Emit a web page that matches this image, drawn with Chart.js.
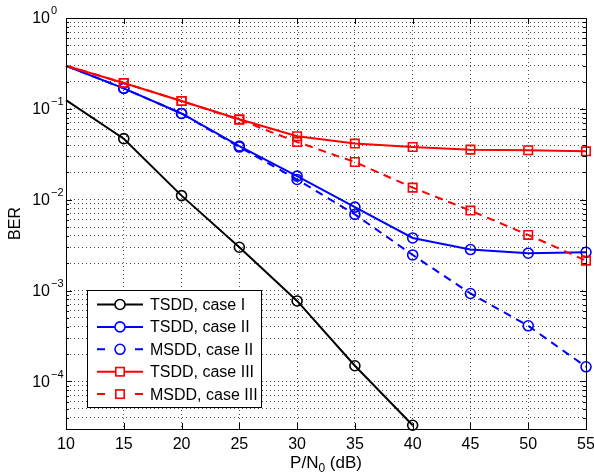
<!DOCTYPE html>
<html>
<head>
<meta charset="utf-8">
<style>
  html, body { margin: 0; padding: 0; background: #fff; }
</style>
</head>
<body>
<canvas id="berChart" width="594" height="475"></canvas>
<script src="https://cdn.jsdelivr.net/npm/chart.js@4/dist/chart.umd.min.js"></script>
<script>
// P/N0 in dB
const snr = [10, 15, 20, 25, 30, 35, 40, 45, 50, 55];

// BER curves
const tsddCase1 = [0.125, 0.047, 0.0111, 0.0030, 7.7e-4, 1.49e-4, 3.3e-5];
const tsddCase2 = [0.298, 0.168, 0.089, 0.039, 0.0182, 0.0083, 0.0038, 0.00283, 0.00258, 0.00264];
const msddCase2 = [0.298, 0.168, 0.089, 0.038, 0.0167, 0.0069, 0.00247, 9.3e-4, 4.1e-4, 1.45e-4];
const tsddCase3 = [0.298, 0.193, 0.122, 0.077, 0.050, 0.0415, 0.038, 0.0356, 0.035, 0.0341];
const msddCase3 = [0.298, 0.193, 0.122, 0.076, 0.0432, 0.026, 0.0136, 0.0076, 0.0041, 0.00214];

const seriesNames = ['TSDD, case I', 'TSDD, case II', 'MSDD, case II', 'TSDD, case III', 'MSDD, case III'];

// axis ticks
const xTicks = [10, 15, 20, 25, 30, 35, 40, 45, 50, 55];
const yDecades = [1, 0.1, 0.01, 0.001, 0.0001];
const yExponents = ['0', '\u22121', '\u22122', '\u22123', '\u22124'];

const FONT = '"Liberation Sans", Arial, Helvetica, sans-serif';

// gridlines at 1..9 x every decade
const yGrid = [];
yDecades.forEach(d => {
  for (let m = 1; m <= 9; m++) {
    const v = +(d * m).toPrecision(3);
    if (v >= 3e-5 && v <= 1) yGrid.push(v);
  }
});
yGrid.push(3e-5, 4e-5, 5e-5, 6e-5, 7e-5, 8e-5, 9e-5);

function pts(values) {
  return values.map((v, i) => ({ x: snr[i], y: v }));
}
function radii(values, r) {
  return values.map((v, i) => (i === 0 ? 0 : r));
}

const styles = [
  { color: '#000000', dash: [], marker: 'circle', r: 5 },
  { color: '#0000ff', dash: [], marker: 'circle', r: 5 },
  { color: '#0000ff', dash: [8, 6], marker: 'circle', r: 5 },
  { color: '#ff0000', dash: [], marker: 'rect', r: 6 },
  { color: '#ff0000', dash: [8, 6], marker: 'rect', r: 6 }
];
const allSeries = [tsddCase1, tsddCase2, msddCase2, tsddCase3, msddCase3];

const datasets = allSeries.map((vals, k) => ({
  label: seriesNames[k],
  data: pts(vals),
  borderColor: styles[k].color,
  borderWidth: 2,
  borderDash: styles[k].dash,
  pointStyle: styles[k].marker,
  pointRadius: radii(vals, styles[k].r),
  pointBorderWidth: 1.6,
  pointBorderColor: styles[k].color,
  pointBackgroundColor: 'rgba(0,0,0,0)',
  fill: false,
  tension: 0,
  clip: false,
  order: 5 - k
}));

const matlabDecor = {
  id: 'matlabDecor',
  afterDraw(chart) {
    const ctx = chart.ctx;
    const a = chart.chartArea;
    const xs = chart.scales.x;
    const ys = chart.scales.y;
    ctx.save();

    // box
    ctx.strokeStyle = '#000';
    ctx.lineWidth = 1;
    ctx.setLineDash([]);
    ctx.strokeRect(Math.round(a.left) + 0.5, Math.round(a.top) + 0.5,
      Math.round(a.right - a.left), Math.round(a.bottom - a.top));

    // inner tick marks
    ctx.beginPath();
    xTicks.forEach(t => {
      const px = Math.round(xs.getPixelForValue(t)) + 0.5;
      ctx.moveTo(px, a.bottom); ctx.lineTo(px, a.bottom - 6);
      ctx.moveTo(px, a.top); ctx.lineTo(px, a.top + 6);
    });
    yGrid.forEach(v => {
      const py = Math.round(ys.getPixelForValue(v)) + 0.5;
      const len = yDecades.includes(v) ? 6 : 3;
      ctx.moveTo(a.left, py); ctx.lineTo(a.left + len, py);
      ctx.moveTo(a.right, py); ctx.lineTo(a.right - len, py);
    });
    ctx.stroke();

    // y tick labels 10^k
    ctx.fillStyle = '#000';
    yDecades.forEach((d, i) => {
      const py = ys.getPixelForValue(d);
      ctx.font = '16px ' + FONT;
      ctx.textAlign = 'right';
      ctx.textBaseline = 'middle';
      ctx.fillText('10', 50, py + 1);
      ctx.font = '11px ' + FONT;
      ctx.textAlign = 'left';
      ctx.fillText(yExponents[i], 51, py - 7);
    });

    // y title
    ctx.save();
    ctx.translate(16, (a.top + a.bottom) / 2);
    ctx.rotate(-Math.PI / 2);
    ctx.font = '16px ' + FONT;
    ctx.textAlign = 'center';
    ctx.textBaseline = 'middle';
    ctx.fillText('BER', 0, 0);
    ctx.restore();

    // x title P/N0 (dB)
    ctx.font = '17px ' + FONT;
    const w1 = ctx.measureText('P/N').width;
    const w3 = ctx.measureText(' (dB)').width;
    ctx.font = '12px ' + FONT;
    const w2 = ctx.measureText('0').width;
    let x0 = (a.left + a.right) / 2 - (w1 + w2 + w3) / 2;
    const base = 468;
    ctx.textAlign = 'left';
    ctx.textBaseline = 'alphabetic';
    ctx.font = '17px ' + FONT;
    ctx.fillText('P/N', x0, base);
    ctx.font = '12px ' + FONT;
    ctx.fillText('0', x0 + w1, base + 4);
    ctx.font = '17px ' + FONT;
    ctx.fillText(' (dB)', x0 + w1 + w2, base);

    // legend box
    const lx = 87, ly = 290, lw = 174, lh = 117;
    ctx.fillStyle = '#fff';
    ctx.fillRect(lx, ly, lw, lh);
    ctx.strokeStyle = '#000';
    ctx.lineWidth = 1;
    ctx.strokeRect(lx + 0.5, ly + 0.5, lw, lh);
    seriesNames.forEach((name, k) => {
      const st = styles[k];
      const cy = 304.5 + k * 22.4;
      ctx.strokeStyle = st.color;
      ctx.lineWidth = 2;
      ctx.beginPath();
      if (st.dash.length) {
        ctx.moveTo(97, cy); ctx.lineTo(105, cy);
        ctx.moveTo(135, cy); ctx.lineTo(143, cy);
      } else {
        ctx.moveTo(97, cy); ctx.lineTo(143, cy);
      }
      ctx.stroke();
      ctx.lineWidth = 1.6;
      if (st.marker === 'circle') {
        ctx.fillStyle = '#fff';
        ctx.beginPath();
        ctx.arc(120, cy, 5, 0, Math.PI * 2);
        ctx.fill();
        ctx.stroke();
      } else {
        ctx.fillStyle = '#fff';
        ctx.fillRect(115.8, cy - 4.2, 8.4, 8.4);
        ctx.strokeRect(115.8, cy - 4.2, 8.4, 8.4);
      }
      ctx.fillStyle = '#000';
      ctx.font = '16px ' + FONT;
      ctx.textAlign = 'left';
      ctx.textBaseline = 'middle';
      ctx.fillText(name, 150, cy + 1);
    });

    ctx.restore();
  }
};

new Chart(document.getElementById('berChart').getContext('2d'), {
  type: 'line',
  data: { datasets: datasets },
  plugins: [matlabDecor],
  options: {
    responsive: false,
    animation: false,
    layout: { padding: { top: 18, right: 8, left: 0, bottom: 0 } },
    plugins: { legend: { display: false }, tooltip: { enabled: false } },
    scales: {
      x: {
        type: 'linear',
        min: 10,
        max: 55,
        ticks: { stepSize: 5, color: '#000', font: { family: FONT, size: 16 }, padding: 6, maxRotation: 0 },
        grid: { color: 'rgba(0,0,0,0.7)', lineWidth: 1, drawTicks: false },
        border: { display: false, dash: [1, 3] },
        afterFit: s => { s.height = 46; s.paddingLeft = 0; s.paddingRight = 0; }
      },
      y: {
        type: 'logarithmic',
        min: 3e-5,
        max: 1,
        ticks: { display: false },
        grid: { color: 'rgba(0,0,0,0.7)', lineWidth: 1, drawTicks: false },
        border: { display: false, dash: [1, 3] },
        afterBuildTicks: s => { s.ticks = yGrid.slice().sort((p, q) => p - q).map(v => ({ value: v })); },
        afterFit: s => { s.width = 66; s.paddingTop = 0; s.paddingBottom = 0; }
      }
    }
  }
});
</script>
</body>
</html>
